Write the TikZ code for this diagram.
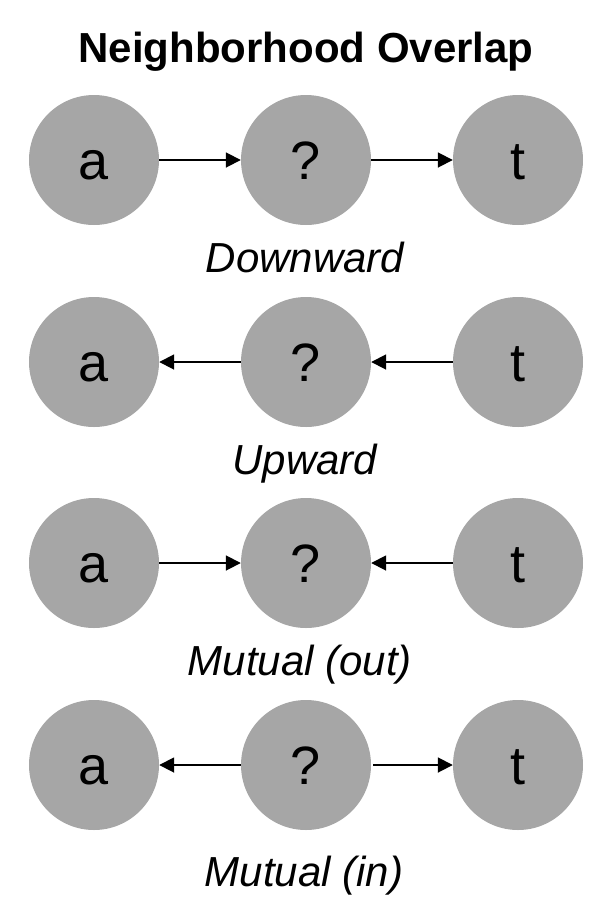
\documentclass[tikz,border=0pt]{standalone}
\usepackage{fontspec}
\setmainfont{Liberation Sans}
\usetikzlibrary{arrows.meta}
\definecolor{nodegray}{HTML}{A6A6A6}
\tikzset{
  vertex/.style={circle, fill=nodegray, draw=none, minimum size=130pt, inner sep=0pt,
    font=\fontsize{54}{54}\selectfont, text height=38pt, text depth=0pt},
  link/.style={line width=1.8pt, -{Triangle[length=15pt, width=15pt]}},
  caption/.style={anchor=base, font=\fontsize{42}{42}\selectfont\itshape, inner sep=0pt},
  heading/.style={anchor=base, font=\fontsize{42}{42}\selectfont\bfseries, inner sep=0pt}
}
\begin{document}
\begin{tikzpicture}[x=1pt, y=-1pt]
  \useasboundingbox (0,0) rectangle (604,900);

  \node[heading] (title) at (306,62) {Neighborhood Overlap};

  % Downward: a -> ? -> t
  \node[vertex] (a1) at (94,160) {a};
  \node[vertex] (m1) at (306,160) {?};
  \node[vertex] (t1) at (518,160) {t};
  \draw[link] (a1) -- (m1);
  \draw[link] (m1) -- (t1);
  \node[caption] (l1) at (305,272) {Downward};

  % Upward: a <- ? <- t
  \node[vertex] (a2) at (94,362) {a};
  \node[vertex] (m2) at (306,362) {?};
  \node[vertex] (t2) at (518,362) {t};
  \draw[link] (m2) -- (a2);
  \draw[link] (t2) -- (m2);
  \node[caption] (l2) at (305,474) {Upward};

  % Mutual (out): a -> ? <- t
  \node[vertex] (a3) at (94,563) {a};
  \node[vertex] (m3) at (306,563) {?};
  \node[vertex] (t3) at (518,563) {t};
  \draw[link] (a3) -- (m3);
  \draw[link] (t3) -- (m3);
  \node[caption] (l3) at (300,675) {Mutual (out)};

  % Mutual (in): a <- ? -> t
  \node[vertex] (a4) at (94,765) {a};
  \node[vertex] (m4) at (306,765) {?};
  \node[vertex] (t4) at (518,765) {t};
  \draw[link] (m4) -- (a4);
  \draw[link, shorten <=2pt] (m4) -- (t4);
  \node[caption] (l4) at (304,886) {Mutual (in)};
\end{tikzpicture}
\end{document}
